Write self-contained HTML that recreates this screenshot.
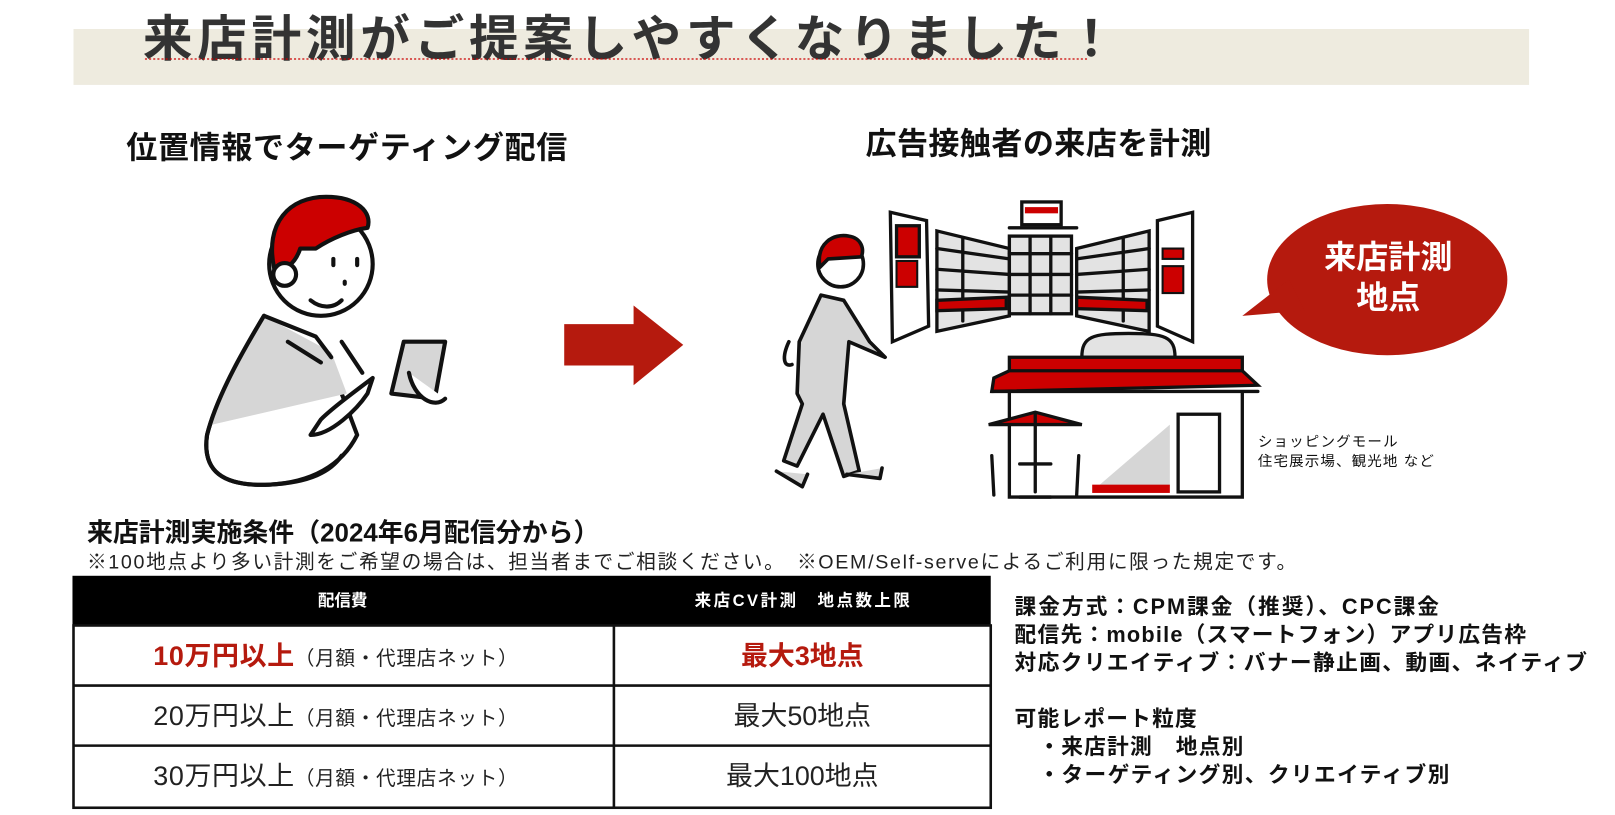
<!DOCTYPE html>
<html><head><meta charset="utf-8"><style>
html,body{margin:0;padding:0;background:#fff;width:1615px;height:815px;overflow:hidden}
svg{display:block}
text{font-family:"Liberation Sans","Noto Sans CJK JP",sans-serif}
</style></head><body>
<svg width="1615" height="815" viewBox="0 0 1560 787" preserveAspectRatio="none" xmlns="http://www.w3.org/2000/svg">
<rect x="71" y="28" width="1406" height="54" fill="#eeebdf"/>
<text x="138" y="54" font-size="48" font-weight="bold" fill="#333" textLength="940" lengthAdjust="spacing">来店計測がご提案しやすくなりました！</text>
<path d="M140 57 L1050 57" stroke="#c00" stroke-width="1.2" stroke-dasharray="2 2"/>
<text x="122" y="153" font-size="30" font-weight="bold" fill="#111" textLength="426" lengthAdjust="spacing">位置情報でターゲティング配信</text>
<text x="836" y="149" font-size="30" font-weight="bold" fill="#111" textLength="334" lengthAdjust="spacing">広告接触者の来店を計測</text>
<!-- arrow -->
<path d="M545 313 H612 V295 L660 333 L612 372 V353 H545 Z" fill="#b51a0e"/>
<!-- left person -->
<g stroke="#111" stroke-width="4" fill="none" stroke-linecap="round" stroke-linejoin="round">
<path d="M255 305 C240 330 210 380 200 420 C195 455 215 470 260 468 C300 466 330 450 345 420 L330 380 Z" fill="#fff"/>
<path d="M255 305 L320 340 L335 380 L205 410 C215 370 235 330 255 305 Z" fill="#d6d6d6" stroke="none"/>
<path d="M255 305 C240 330 210 380 200 420 C195 455 215 470 260 468 C300 466 320 455 330 440"/>
<path d="M255 305 L305 325 L320 345"/>
<path d="M278 330 L310 350"/>
<path d="M330 330 L350 360"/>
<circle cx="310" cy="255" r="50" fill="#fff"/>
<path d="M265 260 C255 215 280 190 315 190 C345 190 360 205 355 220 C340 222 320 230 305 240 L290 240 C285 255 275 262 265 260 Z" fill="#c00"/>
<circle cx="275" cy="265" r="11" fill="#fff"/>
<path d="M300 290 C310 298 322 298 330 290"/>
<path d="M322 250 L322 256 M345 250 L345 256 M333 272 L333 274"/>
<path d="M390 330 L430 330 L420 385 L378 380 Z" fill="#d6d6d6"/>
<path d="M395 360 C400 385 420 395 430 385" fill="#fff"/>
<path d="M300 420 C320 420 345 395 355 380 L360 365 C340 380 320 395 310 405 Z" fill="#fff"/>
</g>
<!-- right walking man -->
<g stroke="#111" stroke-width="3.5" fill="none" stroke-linecap="round" stroke-linejoin="round">
<path d="M793 285 L815 290 L840 330 L855 345 L820 330 L815 390 L830 455 L815 460 L795 400 L770 450 L757 445 L775 390 L770 380 L772 330 Z" fill="#d6d6d6"/>
<path d="M750 455 L775 470 L780 458 M818 458 L850 462 L852 452" fill="#d6d6d6"/>
<circle cx="812" cy="255" r="22" fill="#fff"/>
<path d="M792 258 C788 235 805 225 820 228 C832 230 835 240 832 248 L800 250 Z" fill="#c00"/>
<path d="M762 330 C755 345 757 355 765 352"/>
</g>
<!-- mall -->
<g stroke="#111" stroke-width="3.2" fill="none" stroke-linecap="round">
<path d="M860 205 L895 213 L897 315 L862 330 Z" fill="#fff"/>
<rect x="866" y="218" width="22" height="30" fill="#c00"/>
<rect x="866" y="252" width="20" height="25" fill="#c00" stroke-width="2"/>
<path d="M905 223 L975 240 L975 305 L905 320 Z" fill="#e3e3e3"/>
<path d="M905 240 L975 250 M905 260 L975 265 M905 280 L975 282 M930 230 L930 310"/>
<path d="M905 290 L972 287 L972 298 L905 300 Z" fill="#c00"/>
<rect x="975" y="228" width="60" height="75" fill="#e3e3e3"/>
<path d="M975 245 H1035 M975 265 H1035 M975 285 H1035 M995 228 V303 M1015 228 V303"/>
<rect x="987" y="195" width="38" height="22" fill="#fff"/>
<rect x="990" y="200" width="32" height="6" fill="#c00" stroke="none"/>
<path d="M975 220 H1040"/>
<path d="M1040 240 L1110 223 L1110 320 L1040 305 Z" fill="#e3e3e3"/>
<path d="M1040 250 L1110 240 M1040 265 L1110 260 M1040 282 L1110 280 M1085 230 L1085 310"/>
<path d="M1040 287 L1108 290 L1108 300 L1040 298 Z" fill="#c00"/>
<path d="M1118 213 L1152 205 L1152 330 L1118 315 Z" fill="#fff"/>
<rect x="1123" y="240" width="20" height="10" fill="#c00" stroke-width="2"/>
<rect x="1123" y="257" width="20" height="26" fill="#c00" stroke-width="2"/>
<!-- shop -->
<path d="M1045 345 C1045 325 1055 322 1090 322 C1125 322 1135 325 1135 345 Z" fill="#e3e3e3"/>
<rect x="975" y="345" width="225" height="15" fill="#c00"/>
<path d="M960 365 L975 358 L1200 358 L1215 372 L958 378 Z" fill="#c00"/>
<path d="M958 378 H1215"/>
<path d="M975 380 V480 H1200 V380"/>
<path d="M1060 470 L1130 410 L1130 470 Z" fill="#d6d6d6" stroke="none"/>
<rect x="1138" y="400" width="40" height="75" fill="#fff"/>
<rect x="1055" y="468" width="75" height="8" fill="#c00" stroke="none"/>
<path d="M955 410 L1000 398 L1045 410 Z" fill="#c00"/>
<path d="M1000 400 V475 M985 448 H1015 M985 480 H1015 M958 440 L960 478 M1042 440 L1040 478"/>
</g>
<!-- bubble -->
<ellipse cx="1340" cy="270" rx="116" ry="73" fill="#b51a0e"/>
<path d="M1200 305 L1245 270 L1260 300 Z" fill="#b51a0e"/>
<text x="1341" y="259" font-size="31" font-weight="bold" fill="#fff" text-anchor="middle">来店計測</text>
<text x="1341" y="298" font-size="31" font-weight="bold" fill="#fff" text-anchor="middle">地点</text>
<text x="1215" y="431" font-size="14" fill="#111" textLength="135" lengthAdjust="spacing">ショッピングモール</text>
<text x="1215" y="450" font-size="14" fill="#111" textLength="170" lengthAdjust="spacing">住宅展示場、観光地 など</text>
<!-- conditions -->
<text x="84" y="523" font-size="25" font-weight="bold" fill="#111" textLength="495" lengthAdjust="spacing">来店計測実施条件（2024年6月配信分から）</text>
<text x="84" y="549" font-size="19" fill="#222" textLength="1168" lengthAdjust="spacing">※100地点より多い計測をご希望の場合は、担当者までご相談ください。　※OEM/Self-serveによるご利用に限った規定です。</text>
<rect x="70" y="556" width="887" height="48" fill="#000"/>
<text x="331" y="585" font-size="16" font-weight="bold" fill="#fff" text-anchor="middle">配信費</text>
<text x="775" y="585" font-size="16" font-weight="bold" fill="#fff" text-anchor="middle" textLength="208" lengthAdjust="spacing">来店CV計測　地点数上限</text>
<g stroke="#111" stroke-width="2.5" fill="none">
<rect x="71" y="604" width="886" height="176"/>
<path d="M71 662 H957 M71 720 H957 M593 604 V780"/>
</g>
<text x="148" y="642" font-size="26" font-weight="bold" fill="#b51a0e" textLength="352" lengthAdjust="spacing">10万円以上<tspan font-size="19" font-weight="normal" fill="#222">（月額・代理店ネット）</tspan></text>
<text x="775" y="642" font-size="26" font-weight="bold" fill="#b51a0e" text-anchor="middle">最大3地点</text>
<text x="148" y="700" font-size="26" fill="#222" textLength="352" lengthAdjust="spacing">20万円以上<tspan font-size="19">（月額・代理店ネット）</tspan></text>
<text x="775" y="700" font-size="26" fill="#222" text-anchor="middle">最大50地点</text>
<text x="148" y="758" font-size="26" fill="#222" textLength="352" lengthAdjust="spacing">30万円以上<tspan font-size="19">（月額・代理店ネット）</tspan></text>
<text x="775" y="758" font-size="26" fill="#222" text-anchor="middle">最大100地点</text>
<g font-size="21" font-weight="bold" fill="#111">
<text x="980" y="593" textLength="410" lengthAdjust="spacing">課金方式：CPM課金（推奨）、CPC課金</text>
<text x="980" y="620" textLength="494" lengthAdjust="spacing">配信先：mobile（スマートフォン）アプリ広告枠</text>
<text x="980" y="647" textLength="553" lengthAdjust="spacing">対応クリエイティブ：バナー静止画、動画、ネイティブ</text>
<text x="980" y="701" textLength="176" lengthAdjust="spacing">可能レポート粒度</text>
<text x="1003" y="728" textLength="198" lengthAdjust="spacing">・来店計測　地点別</text>
<text x="1003" y="755" textLength="397" lengthAdjust="spacing">・ターゲティング別、クリエイティブ別</text>
</g>
</svg>
</body></html>
